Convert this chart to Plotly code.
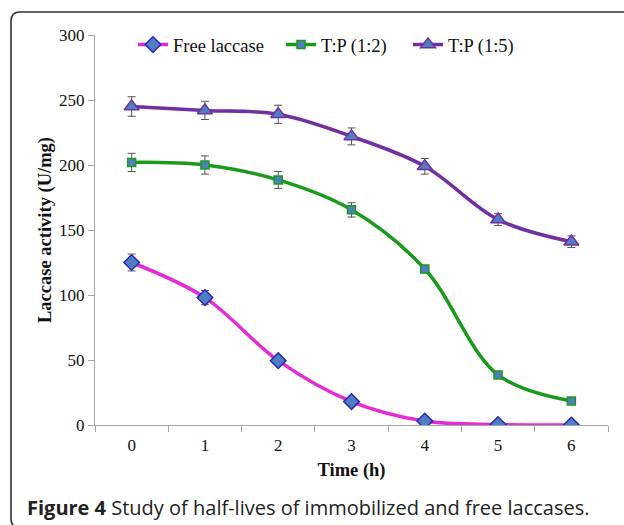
import plotly.graph_objects as go

time_h = ["0", "1", "2", "3", "4", "5", "6"]
free_laccase = [125, 98, 49.5, 18, 3, 0.3, 0]
free_err = [6.5, 5.5, 0, 0, 0, 0, 0]
tp_12 = [202, 200, 188.5, 165.5, 120, 38.5, 18.5]
tp_12_err = [7, 7, 6.5, 5.5, 2, 0, 0]
tp_15 = [245, 242, 239, 222, 199, 158, 141]
tp_15_err = [7.5, 7, 7, 6.5, 6, 4.5, 4.5]
y_ticks = [0, 50, 100, 150, 200, 250, 300]

W, H = 624, 525
ML, MR, MT, MB = 95, 16, 35, 100
PW, PH = W - ML - MR, H - MT - MB

def px(x):
    return (x - ML) / PW

def py(y):
    return (H - MB - y) / PH

serif = "Liberation Serif, Times New Roman, serif"
err_style = dict(type="data", color="#555555", thickness=1, width=4)

fig = go.Figure()
fig.add_trace(go.Scatter(
    x=time_h, y=free_laccase, name="Free laccase", mode="lines+markers", legend="legend",
    line=dict(color="#e42bd4", width=3.5, shape="spline", smoothing=1.0),
    marker=dict(symbol="diamond", size=12, color="#4f7fc0",
                line=dict(color="#2a2ab8", width=1.5)),
    error_y=dict(array=free_err, **err_style),
))
fig.add_trace(go.Scatter(
    x=time_h, y=tp_12, name="T:P (1:2)", mode="lines+markers", legend="legend2",
    line=dict(color="#1a9a1a", width=3.5, shape="spline", smoothing=1.0),
    marker=dict(symbol="square", size=8, color="#4f7fc0",
                line=dict(color="#1a9a1a", width=1.5)),
    error_y=dict(array=tp_12_err, **err_style),
))
fig.add_trace(go.Scatter(
    x=time_h, y=tp_15, name="T:P (1:5)", mode="lines+markers", legend="legend3",
    line=dict(color="#7030a0", width=3.5, shape="spline", smoothing=1.0),
    marker=dict(symbol="triangle-up", size=13, color="#4f7fc0",
                line=dict(color="#7030a0", width=1.5)),
    error_y=dict(array=tp_15_err, **err_style),
))

# rounded frame around figure
x0, yt, yb, xr = px(11), py(12), py(528), px(640)
rx, ry = 9 / PW, 9 / PH
frame = (f"M {xr},{yt} L {x0 + rx},{yt} Q {x0},{yt} {x0},{yt - ry} "
         f"L {x0},{yb + ry} Q {x0},{yb} {x0 + rx},{yb} L {xr},{yb}")
fig.add_shape(type="path", xref="paper", yref="paper", path=frame,
              line=dict(color="#333333", width=1.6))

fig.add_annotation(
    xref="paper", yref="paper", x=px(25), y=py(508), xanchor="left", yanchor="middle",
    text="<b>Figure 4</b> Study of half-lives of immobilized and free laccases.",
    showarrow=False, font=dict(family="Open Sans", size=20, color="#222222"),
)

leg_common = dict(orientation="h", yanchor="middle", xanchor="left", y=py(45),
                  font=dict(family=serif, size=18.5, color="#111111"),
                  bgcolor="rgba(0,0,0,0)", itemwidth=30)

fig.update_layout(
    width=W, height=H,
    margin=dict(l=ML, r=MR, t=MT, b=MB),
    paper_bgcolor="white", plot_bgcolor="white",
    font=dict(family=serif, size=17, color="#111111"),
    showlegend=True,
    legend=dict(x=px(133), **leg_common),
    legend2=dict(x=px(281), **leg_common),
    legend3=dict(x=px(408), **leg_common),
    xaxis=dict(
        type="category", range=[-0.5, 6.5], tickson="boundaries",
        showline=True, linecolor="#a6a6a6", linewidth=1,
        ticks="outside", ticklen=6, tickcolor="#a6a6a6",
        showgrid=False, zeroline=False, ticklabelstandoff=5,
        title=dict(text="<b>Time (h)</b>", font=dict(family=serif, size=18.5), standoff=8),
        tickfont=dict(family=serif, size=17, color="#111111"),
    ),
    yaxis=dict(
        range=[0, 300], tickmode="array", tickvals=y_ticks,
        showline=True, linecolor="#a6a6a6", linewidth=1,
        ticks="outside", ticklen=6, tickcolor="#a6a6a6",
        showgrid=False, zeroline=False,
        title=dict(text="<b>Laccase activity (U/mg)</b>", font=dict(family=serif, size=18.5), standoff=2),
        tickfont=dict(family=serif, size=17, color="#111111"),
    ),
)

fig.write_html("out.html", config={"displayModeBar": False},
               post_script="document.body.style.margin='0px';")
